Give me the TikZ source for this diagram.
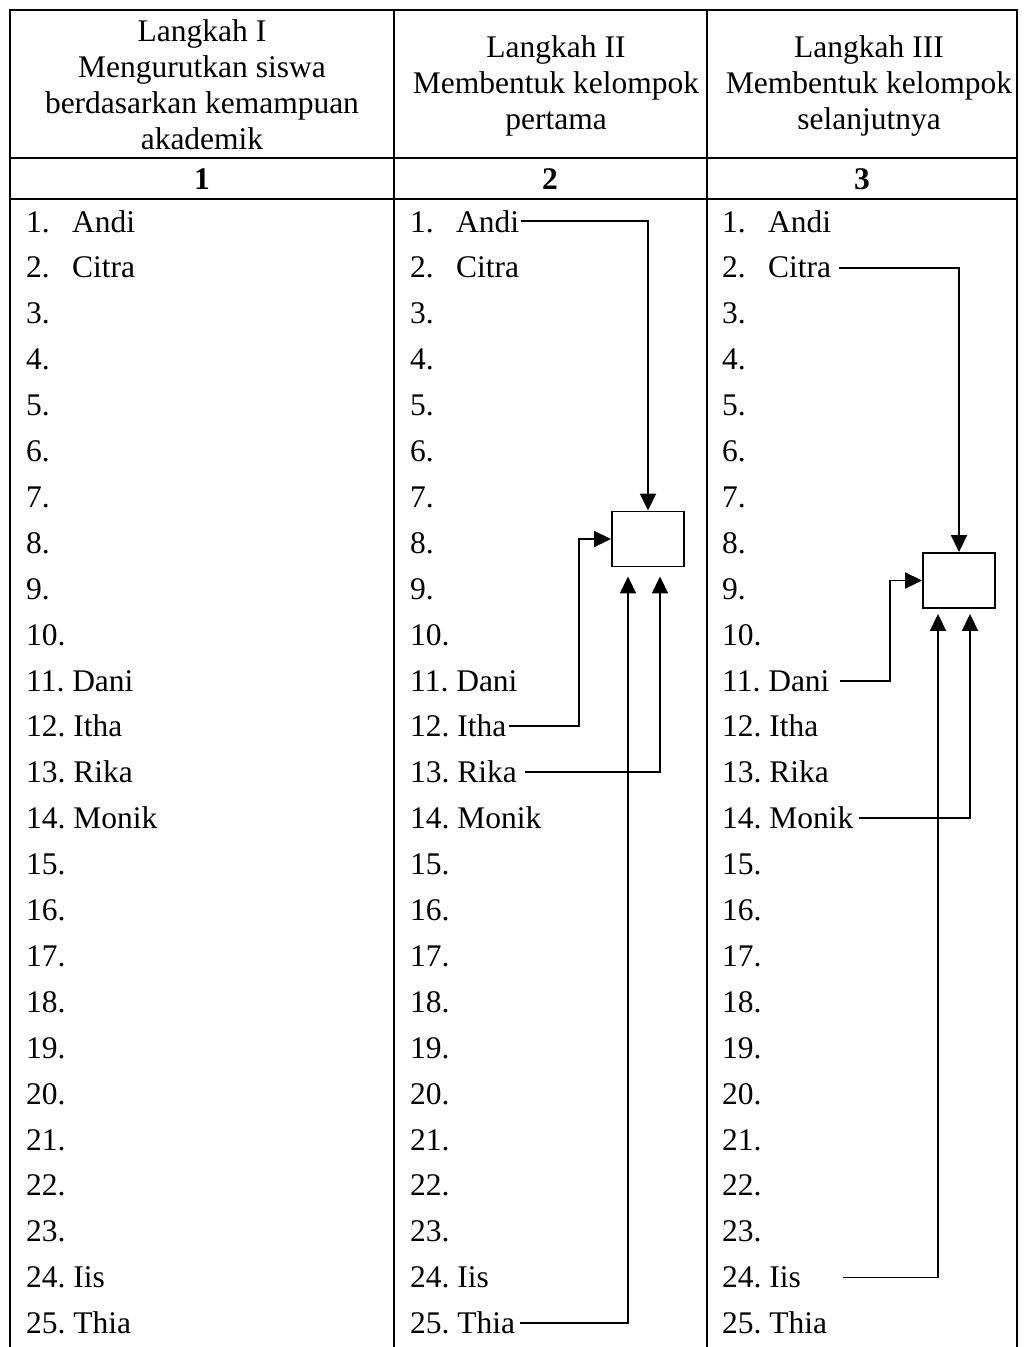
\documentclass[tikz,border=0pt]{standalone}
\usepackage{fontspec}
\setmainfont{Liberation Serif}
\usetikzlibrary{arrows.meta,calc}
\begin{document}
\begin{tikzpicture}[x=1pt,y=-1pt,
  grid/.style={line width=2pt},
  conn/.style={line width=1.9pt},
  arr/.style={conn,-{Triangle[length=17pt,width=16pt]}},
  item/.style={anchor=base west,inner sep=0pt,font=\fontsize{31.5}{36}\selectfont},
  head/.style={align=center,inner sep=0pt,font=\fontsize{31.5}{36}\selectfont},
  numhead/.style={inner sep=0pt,font=\fontsize{31.5}{36}\selectfont\bfseries},
  grp/.style={draw,line width=1.9pt,minimum width=72pt,minimum height=55pt,inner sep=0pt}]
\useasboundingbox (0,0) rectangle (1023,1347);
% table grid
\draw[grid] (10,1347) -- (10,10) -- (1017,10) -- (1017,1347);
\draw[grid] (394,10) -- (394,1347);
\draw[grid] (707,10) -- (707,1347);
\draw[grid] (10,158) -- (1017,158);
\draw[grid] (10,199) -- (1017,199);
% headers
\node[head] (h1) at (202,85) {Langkah I\\Mengurutkan siswa\\berdasarkan kemampuan\\akademik};
\node[head] (h2) at (556,86) {Langkah II\\Membentuk kelompok\\pertama};
\node[head] (h3) at (869,86) {Langkah III\\Membentuk kelompok\\selanjutnya};
\node[numhead] (k1) at (202,179) {1};
\node[numhead] (k2) at (550,179) {2};
\node[numhead] (k3) at (862,179) {3};
% lists
\foreach \c/\xx in {1/26,2/410,3/722}{
  \foreach \i/\n in {1/Andi,2/Citra,3/{},4/{},5/{},6/{},7/{},8/{},9/{},10/{},
      11/Dani,12/Itha,13/Rika,14/Monik,15/{},16/{},17/{},18/{},19/{},20/{},
      21/{},22/{},23/{},24/Iis,25/Thia}{
    \node[item] (n\c-\i) at (\xx,{232+45.9*(\i-1)})
      {\ifnum\i<10 \makebox[46pt][l]{\i.}\n\else\i.\ \n\fi};
  }
}
% group boxes
\node[grp] (g2) at (648,539) {};
\node[grp] (g3) at (959,580.5) {};
% column 2 connectors
\draw[arr] ([xshift=2pt]n2-1.east) -| (g2.north);
\draw[arr] ([xshift=2pt]n2-12.east) -| ($(g2.west)+(-32,0)$) -- (g2.west);
\draw[arr] ([xshift=8pt]n2-13.east) -| ($(g2.south)+(12,9)$);
\draw[arr] ([xshift=5pt]n2-25.east) -| ($(g2.south)+(-20,9)$);
% column 3 connectors
\draw[arr] ([xshift=8pt]n3-2.east) -| (g3.north);
\draw[arr] ([xshift=10pt]n3-11.east) -| ($(g3.west)+(-32,0)$) -- (g3.west);
\draw[arr] ([xshift=5pt]n3-14.east) -| ($(g3.south)+(11,5)$);
\draw[arr] ([xshift=42pt]n3-24.east) -| ($(g3.south)+(-21,5)$);
\end{tikzpicture}
\end{document}
